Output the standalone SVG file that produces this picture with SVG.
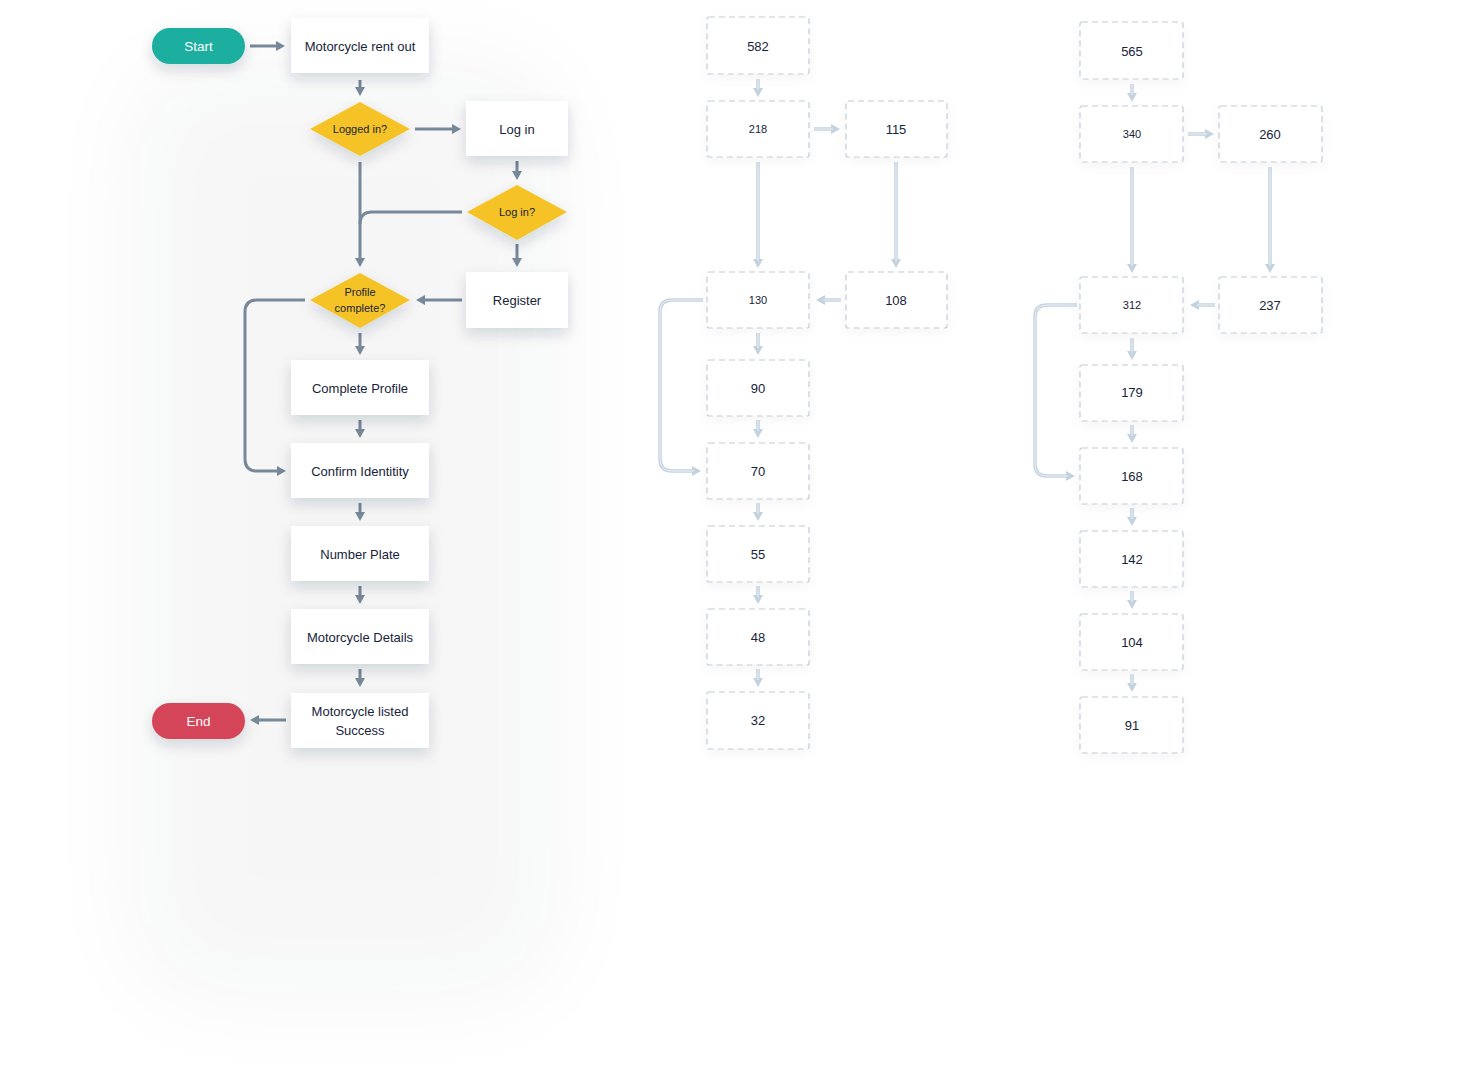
<svg xmlns="http://www.w3.org/2000/svg" width="1475" height="1092" viewBox="0 0 1475 1092">
<defs>
<filter id="sh" x="-50%" y="-50%" width="200%" height="250%">
<feDropShadow dx="0" dy="6" stdDeviation="7" flood-color="#1b2a3a" flood-opacity="0.16"/>
</filter>
<filter id="shg" x="-50%" y="-50%" width="200%" height="250%">
<feDropShadow dx="0" dy="4" stdDeviation="6" flood-color="#1b2a3a" flood-opacity="0.04"/>
</filter>
<filter id="bigblur" x="-50%" y="-50%" width="200%" height="200%">
<feGaussianBlur stdDeviation="50"/>
</filter>
<marker id="ah" markerUnits="userSpaceOnUse" markerWidth="11" markerHeight="11" refX="2" refY="5.5" orient="auto">
<path d="M0,0.5 L9,5.5 L0,10.5 z" fill="#778899"/>
</marker>
<marker id="ahg" markerUnits="userSpaceOnUse" markerWidth="11" markerHeight="11" refX="2" refY="5.5" orient="auto">
<path d="M0,0.5 L9,5.5 L0,10.5 z" fill="#c4d2df"/>
</marker>
<style>
.box{fill:#ffffff;filter:url(#sh);}
.dia{fill:#f6c325;filter:url(#sh);}
.gbox{fill:#ffffff;stroke:#c2ccd6;stroke-width:1.2;stroke-dasharray:6 4;filter:url(#shg);}
.t{font-family:"Liberation Sans",Arial,sans-serif;font-size:13px;fill:#17243a;text-anchor:middle;dominant-baseline:central;}
.ts{font-size:11px;}
.tw{fill:#ffffff;font-size:13.5px;}
.c{fill:none;stroke:#778899;stroke-width:3;}
.ca{marker-end:url(#ah);}
.g{fill:none;stroke:#c4d2df;stroke-width:3.5;}
.gi{fill:none;stroke:#eef3f8;stroke-width:1;}
.ga{marker-end:url(#ahg);}
</style>
</defs>
<rect width="1475" height="1092" fill="#ffffff"/>
<g opacity="0.035" filter="url(#bigblur)">
<rect x="130" y="60" width="430" height="940" rx="80" fill="#1b2a3a"/>
</g>

<g id="connectors">
<path class="c ca" d="M250,46 L278,46"/>
<path class="c ca" d="M360,80 L360,89"/>
<path class="c ca" d="M415,129 L454,129"/>
<path class="c ca" d="M517,161 L517,173"/>
<path class="c ca" d="M517,244 L517,260"/>
<path class="c ca" d="M360,162 L360,260"/>
<path class="c" d="M462,212 L372,212 Q360,212 360,224"/>
<path class="c ca" d="M462,300 L423,300"/>
<path class="c ca" d="M305,300 L257,300 Q245,300 245,312 L245,459 Q245,471 257,471 L279,471"/>
<path class="c ca" d="M360,333 L360,348"/>
<path class="c ca" d="M360,420 L360,431"/>
<path class="c ca" d="M360,503 L360,514"/>
<path class="c ca" d="M360,586 L360,597"/>
<path class="c ca" d="M360,669 L360,680"/>
<path class="c ca" d="M286,720 L257,720"/>

<g>
<path class="g ga" d="M758,79 L758,90"/>
<path class="g ga" d="M814,129 L833,129"/>
<path class="g ga" d="M758,162 L758,261"/>
<path class="g ga" d="M896,162 L896,261"/>
<path class="g ga" d="M841,300 L823,300"/>
<path class="g ga" d="M703,300 L672,300 Q660,300 660,312 L660,459 Q660,471 672,471 L694,471"/>
<path class="g ga" d="M758,333 L758,348"/>
<path class="g ga" d="M758,420 L758,431"/>
<path class="g ga" d="M758,503 L758,514"/>
<path class="g ga" d="M758,586 L758,597"/>
<path class="g ga" d="M758,669 L758,680"/>
<path class="gi" d="M758,79 L758,90 M814,129 L833,129 M758,162 L758,261 M896,162 L896,261 M841,300 L823,300 M703,300 L672,300 Q660,300 660,312 L660,459 Q660,471 672,471 L694,471 M758,333 L758,348 M758,420 L758,431 M758,503 L758,514 M758,586 L758,597 M758,669 L758,680"/>
</g>
<g>
<path class="g ga" d="M1132,84 L1132,95"/>
<path class="g ga" d="M1188,134 L1207,134"/>
<path class="g ga" d="M1132,167 L1132,266"/>
<path class="g ga" d="M1270,167 L1270,266"/>
<path class="g ga" d="M1215,305 L1197,305"/>
<path class="g ga" d="M1077,305 L1047,305 Q1035,305 1035,317 L1035,464 Q1035,476 1047,476 L1068,476"/>
<path class="g ga" d="M1132,338 L1132,353"/>
<path class="g ga" d="M1132,425 L1132,436"/>
<path class="g ga" d="M1132,508 L1132,519"/>
<path class="g ga" d="M1132,591 L1132,602"/>
<path class="g ga" d="M1132,674 L1132,685"/>
<path class="gi" d="M1132,84 L1132,95 M1188,134 L1207,134 M1132,167 L1132,266 M1270,167 L1270,266 M1215,305 L1197,305 M1077,305 L1047,305 Q1035,305 1035,317 L1035,464 Q1035,476 1047,476 L1068,476 M1132,338 L1132,353 M1132,425 L1132,436 M1132,508 L1132,519 M1132,591 L1132,602 M1132,674 L1132,685"/>
</g>
</g>

<g id="start"><rect x="152" y="28" width="93" height="36" rx="18" fill="#1aae9f" filter="url(#sh)"/><text class="t tw" x="198.5" y="46">Start</text></g>
<g id="rent-out"><rect class="box" x="291" y="18" width="138" height="55"/><text class="t" x="360" y="46">Motorcycle rent out</text></g>
<g id="logged-in"><polygon class="dia" points="360,102 410,129 360,156 310,129"/><text class="t ts" x="360" y="129">Logged in?</text></g>
<g id="log-in"><rect class="box" x="466" y="101" width="102" height="55"/><text class="t" x="517" y="129">Log in</text></g>
<g id="log-in-q"><polygon class="dia" points="517,185 567,212 517,240 467,212"/><text class="t ts" x="517" y="212">Log in?</text></g>
<g id="register"><rect class="box" x="466" y="272" width="102" height="56"/><text class="t" x="517" y="300">Register</text></g>
<g id="profile-complete"><polygon class="dia" points="360,273 410,300 360,328 310,300"/><text class="t ts" x="360" y="292">Profile</text><text class="t ts" x="360" y="308">complete?</text></g>
<g id="complete-profile"><rect class="box" x="291" y="360" width="138" height="55"/><text class="t" x="360" y="388">Complete Profile</text></g>
<g id="confirm-identity"><rect class="box" x="291" y="443" width="138" height="55"/><text class="t" x="360" y="471">Confirm Identitity</text></g>
<g id="number-plate"><rect class="box" x="291" y="526" width="138" height="55"/><text class="t" x="360" y="554">Number Plate</text></g>
<g id="motorcycle-details"><rect class="box" x="291" y="609" width="138" height="55"/><text class="t" x="360" y="637">Motorcycle Details</text></g>
<g id="listed-success"><rect class="box" x="291" y="693" width="138" height="55"/><text class="t" x="360" y="711">Motorcycle listed</text><text class="t" x="360" y="730">Success</text></g>
<g id="end"><rect x="152" y="703" width="93" height="36" rx="18" fill="#d5455a" filter="url(#sh)"/><text class="t tw" x="198.5" y="721">End</text></g>

<g id="n582"><rect class="gbox" x="707" y="17" width="102" height="57" rx="2"/><text class="t" x="758" y="46">582</text></g>
<g id="n218"><rect class="gbox" x="707" y="101" width="102" height="56" rx="2"/><text class="t ts" x="758" y="129">218</text></g>
<g id="n115"><rect class="gbox" x="846" y="101" width="101" height="56" rx="2"/><text class="t" x="896" y="129">115</text></g>
<g id="n130"><rect class="gbox" x="707" y="272" width="102" height="56" rx="2"/><text class="t ts" x="758" y="300">130</text></g>
<g id="n108"><rect class="gbox" x="846" y="272" width="101" height="56" rx="2"/><text class="t" x="896" y="300">108</text></g>
<g id="n90"><rect class="gbox" x="707" y="360" width="102" height="56" rx="2"/><text class="t" x="758" y="388">90</text></g>
<g id="n70"><rect class="gbox" x="707" y="443" width="102" height="56" rx="2"/><text class="t" x="758" y="471">70</text></g>
<g id="n55"><rect class="gbox" x="707" y="526" width="102" height="56" rx="2"/><text class="t" x="758" y="554">55</text></g>
<g id="n48"><rect class="gbox" x="707" y="609" width="102" height="56" rx="2"/><text class="t" x="758" y="637">48</text></g>
<g id="n32"><rect class="gbox" x="707" y="692" width="102" height="57" rx="2"/><text class="t" x="758" y="720">32</text></g>

<g id="n565"><rect class="gbox" x="1080" y="22" width="103" height="57" rx="2"/><text class="t" x="1132" y="51">565</text></g>
<g id="n340"><rect class="gbox" x="1080" y="106" width="103" height="56" rx="2"/><text class="t ts" x="1132" y="134">340</text></g>
<g id="n260"><rect class="gbox" x="1219" y="106" width="103" height="56" rx="2"/><text class="t" x="1270" y="134">260</text></g>
<g id="n312"><rect class="gbox" x="1080" y="277" width="103" height="56" rx="2"/><text class="t ts" x="1132" y="305">312</text></g>
<g id="n237"><rect class="gbox" x="1219" y="277" width="103" height="56" rx="2"/><text class="t" x="1270" y="305">237</text></g>
<g id="n179"><rect class="gbox" x="1080" y="365" width="103" height="56" rx="2"/><text class="t" x="1132" y="392">179</text></g>
<g id="n168"><rect class="gbox" x="1080" y="448" width="103" height="56" rx="2"/><text class="t" x="1132" y="476">168</text></g>
<g id="n142"><rect class="gbox" x="1080" y="531" width="103" height="56" rx="2"/><text class="t" x="1132" y="559">142</text></g>
<g id="n104"><rect class="gbox" x="1080" y="614" width="103" height="56" rx="2"/><text class="t" x="1132" y="642">104</text></g>
<g id="n91"><rect class="gbox" x="1080" y="697" width="103" height="56" rx="2"/><text class="t" x="1132" y="725">91</text></g>
</svg>
